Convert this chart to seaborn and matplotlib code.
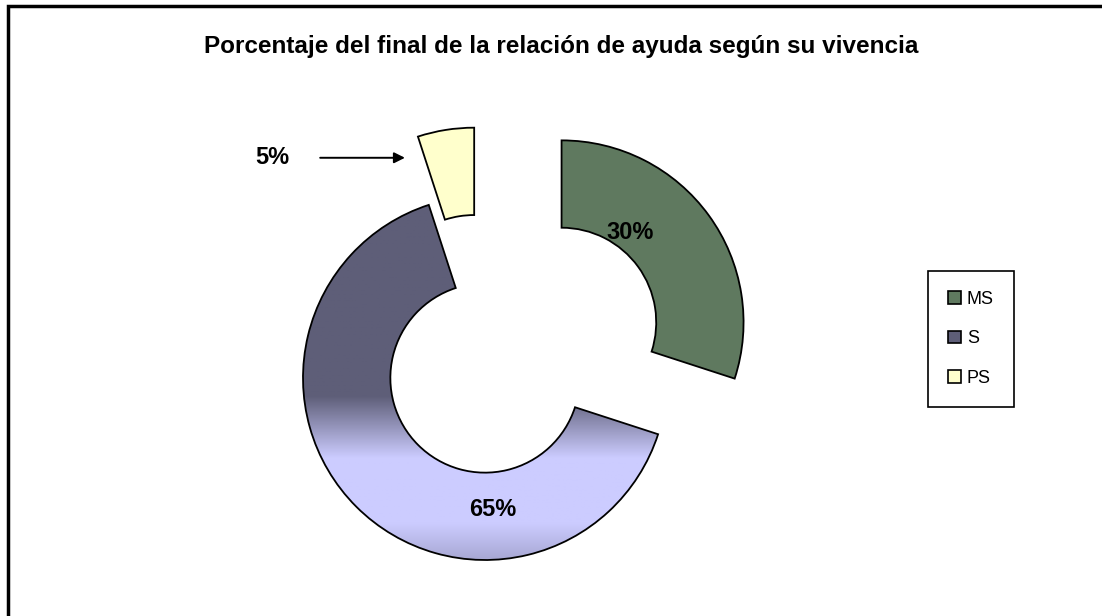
import matplotlib
matplotlib.use("Agg")
import matplotlib.pyplot as plt
import numpy as np
import seaborn as sns
from matplotlib.patches import Patch, Rectangle
from matplotlib.colors import LinearSegmentedColormap

# Datos del gráfico
categorias = ['MS', 'S', 'PS']
porcentajes = [30, 65, 5]
etiquetas = ['30%', '65%', '5%']
separacion = [0.52, 0.0, 0.38]
colores = ['#5F795F', '#5E5E78', '#FFFFCC']

sns.set_theme(style="white")
plt.rcParams['font.family'] = ['Liberation Sans', 'DejaVu Sans']
plt.rcParams['text.color'] = 'black'

fig = plt.figure(figsize=(11.02, 6.16), dpi=100)
ax = fig.add_axes([0, 0, 1, 1])

# Marco exterior (recortado a la derecha y abajo como en el original)
fig.patches.append(Rectangle((8 / 1102, -0.05), 1.1, 1 - 6 / 616 + 0.05,
                             transform=fig.transFigure, fill=False,
                             edgecolor='black', linewidth=2.5))

wedges, _ = ax.pie(porcentajes, explode=separacion, colors=colores,
                   startangle=90, counterclock=False, radius=1,
                   wedgeprops=dict(width=0.48, edgecolor='black', linewidth=1.3))

# Degradado vertical del sector S
cmap = LinearSegmentedColormap.from_list(
    'grad', [(0.0, '#A8A8D4'), (0.10, '#CCCCFF'), (0.28, '#CCCCFF'),
             (0.45, '#5E5E78'), (1.0, '#5E5E78')])
grad = np.linspace(0, 1, 256).reshape(-1, 1)
img = ax.imshow(grad, cmap=cmap, origin='lower', aspect='auto',
                extent=(-1.05, 1.05, -1.0, 1.0), zorder=wedges[1].get_zorder())
img.set_clip_path(wedges[1])
wedges[1].set_facecolor('none')
wedges[1].set_zorder(img.get_zorder() + 0.5)

ax.set_aspect('auto')
ax.set_xlim(-485 / 182, (1102 - 485) / 182)
ax.set_ylim(-(616 - 378) / 182, 378 / 182)
ax.axis('off')

# Etiquetas de porcentaje
ax.text(0.80, 0.80, etiquetas[0], ha='center', va='center', fontsize=17, fontweight='bold')
ax.text(0.04, -0.725, etiquetas[1], ha='center', va='center', fontsize=17, fontweight='bold')
ax.annotate(etiquetas[2], xy=(-0.44, 1.21), xytext=(-1.17, 1.21),
            ha='center', va='center', fontsize=17, fontweight='bold',
            arrowprops=dict(arrowstyle='-|>', color='black', lw=1.4,
                            shrinkA=20, shrinkB=0, mutation_scale=16))

fig.text(561 / 1102, 1 - 47 / 616,
         'Porcentaje del final de la relación de ayuda según su vivencia',
         ha='center', va='center', fontsize=17.5, fontweight='bold')

handles = [Patch(facecolor=c, edgecolor='black', linewidth=1.2) for c in colores]
leg = fig.legend(handles, categorias, loc='upper left',
                 bbox_to_anchor=(928 / 1102, 1 - 271 / 616),
                 fontsize=13, frameon=True, fancybox=False, framealpha=1,
                 labelspacing=1.25, handlelength=0.7, handleheight=0.7,
                 handletextpad=0.35, borderpad=1.1, borderaxespad=0)
leg.get_frame().set_edgecolor('black')
leg.get_frame().set_linewidth(1.2)

fig.savefig('out.png', dpi=100, facecolor='white')
